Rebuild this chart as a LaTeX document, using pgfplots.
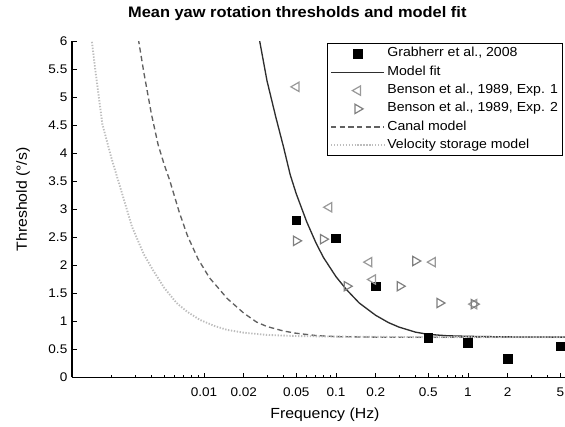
\documentclass[border=0pt]{standalone}
\usepackage{fontspec}
\setmainfont{Liberation Sans}[FakeStretch=1.08]
\usepackage{pgfplots}
\pgfplotsset{compat=1.18}
\definecolor{fitc}{gray}{0.18}
\definecolor{canalc}{gray}{0.38}
\definecolor{vsc}{gray}{0.74}
\definecolor{exa}{gray}{0.6}
\definecolor{exb}{gray}{0.5}
\begin{document}
\begin{tikzpicture}
\begin{axis}[
  at={(0,0)}, anchor=south west,
  scale only axis, width=369.75pt, height=252pt,
  xmode=log, xmin=0.001, xmax=5.43, ymin=0, ymax=6,
  axis lines=left, axis line style={-, line width=0.9pt},
  tick align=inside, major tick length=3.5pt, minor tick length=2pt,
  every tick/.style={black, line width=0.6pt},
  xtick={0.01,0.02,0.05,0.1,0.2,0.5,1,2,5},
  xticklabels={0.01,0.02,0.05,0.1,0.2,0.5,1,2,5},
  minor xtick={0.002,0.003,0.004,0.005,0.006,0.007,0.008,0.009,0.03,0.04,0.06,0.07,0.08,0.09,0.3,0.4,0.6,0.7,0.8,0.9,3,4},
  ytick={0,0.5,1,1.5,2,2.5,3,3.5,4,4.5,5,5.5,6},
  yticklabels={0,0.5,1,1.5,2,2.5,3,3.5,4,4.5,5,5.5,6},
  ticklabel style={font=\fontsize{9.4}{10}\selectfont},
  xticklabel style={yshift=-4.5pt},
  title={Mean yaw rotation thresholds and model fit},
  title style={at={(axis description cs:0.457,1)}, anchor=base, yshift=12pt, font=\bfseries\fontsize{11.4}{12}\selectfont},
  xlabel={Frequency (Hz)},
  xlabel style={at={(axis description cs:0.513,0)}, anchor=base, yshift=-30.4pt, font=\fontsize{11}{12}\selectfont},
  ylabel={Threshold (°/s)},
  ylabel style={at={(axis description cs:0,0.53)}, anchor=base, yshift=33.75pt, font=\fontsize{11}{12}\selectfont},
  legend cell align=left,
  legend image code/.code={\draw[mark repeat=2,mark phase=2,#1] plot coordinates {(0pt,0pt) (20pt,0pt) (40pt,0pt)};},
  legend style={
    at={(axis description cs:0.517,0.9955)}, anchor=north west,
    draw=black, line width=0.9pt, fill=white,
    font=\fontsize{9.8}{12}\selectfont,
    inner xsep=2pt, inner ysep=1pt, row sep=0pt,
    nodes={inner xsep=1.5pt, inner ysep=0pt, text height=9pt, text depth=4.7pt},
    /tikz/every even column/.append style={column sep=0pt},
  },
]
\addplot[only marks, mark=square*, mark size=3.2pt, black, mark options={fill=black, solid}] table {
x y
0.05 2.81
0.1 2.49
0.2 1.63
0.5 0.71
1 0.62
2 0.33
5 0.56
};
\addlegendentry{Grabherr et al., 2008}
\addplot[fitc, line width=1pt, no marks] table {
x y
0.026 6.1
0.0265 5.99
0.03 5.3
0.035 4.65
0.04 4.12
0.045 3.62
0.05 3.28
0.06 2.78
0.07 2.42
0.08 2.15
0.1 1.8
0.12 1.57
0.15 1.33
0.2 1.11
0.25 0.98
0.3 0.9
0.4 0.81
0.5 0.77
0.7 0.745
1 0.735
2 0.725
5.5 0.72
};
\addlegendentry{Model fit}
\addplot[only marks, mark=triangle, mark size=4pt, exa, line width=0.9pt, mark options={rotate=90, solid}] table {
x y
0.05 5.19
0.0885 3.04
0.178 2.06
0.19 1.75
0.54 2.06
1.11 1.31
};
\addlegendentry{Benson et al., 1989, Exp. 1}
\addplot[only marks, mark=triangle, mark size=4pt, exb, line width=0.9pt, mark options={rotate=-90, solid}] table {
x y
0.05 2.44
0.08 2.47
0.121 1.63
0.305 1.63
0.40 2.08
0.61 1.33
1.11 1.31
};
\addlegendentry{Benson et al., 1989, Exp. 2}
\addplot[canalc, line width=1pt, no marks, dash pattern=on 4pt off 2.5pt] table {
x y
0.0031 6.2
0.00322 5.97
0.0035 5.45
0.004 4.7
0.0045 4.15
0.005 3.8
0.0055 3.52
0.0065 2.95
0.0075 2.53
0.009 2.12
0.011 1.78
0.0126 1.62
0.015 1.41
0.02 1.15
0.025 0.99
0.03 0.91
0.04 0.83
0.05 0.79
0.07 0.75
0.1 0.73
0.2 0.72
0.5 0.72
1 0.72
5.5 0.72
};
\addlegendentry{Canal model}
\addplot[vsc, line width=1.4pt, no marks, dash pattern=on 1pt off 1.2pt] table {
x y
0.00137 6.2
0.00142 5.97
0.0015 5.5
0.0017 4.52
0.002 3.9
0.0024 3.28
0.00285 2.69
0.0035 2.2
0.0041 1.92
0.005 1.6
0.0062 1.33
0.0075 1.17
0.0093 1.03
0.012 0.92
0.015 0.85
0.02 0.8
0.03 0.76
0.05 0.74
0.1 0.73
0.5 0.72
5.5 0.72
};
\addlegendentry{Velocity storage model}
\end{axis}
\pgfresetboundingbox
\path[use as bounding box] (-54pt,-37.125pt) rectangle (369.75pt,283.125pt);
\end{tikzpicture}
\end{document}
